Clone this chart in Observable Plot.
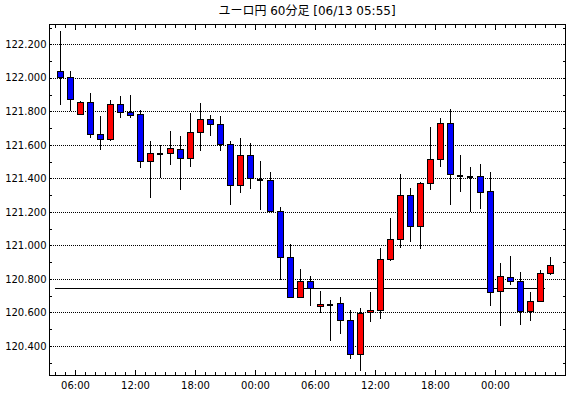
<!DOCTYPE html>
<html>
<head>
<meta charset="utf-8">
<script src="https://cdn.jsdelivr.net/npm/d3@7"></script>
<script src="https://cdn.jsdelivr.net/npm/@observablehq/plot@0.6"></script>
<style>
  html, body { margin: 0; padding: 0; background: #ffffff; }
  #title { width: 570px; height: 20px; box-sizing: border-box; padding-left: 44px; text-align: center;
           font-family: "DejaVu Sans", "Noto Sans CJK JP", sans-serif; font-size: 12px; line-height: 22px; color: #000; white-space: nowrap; }
</style>
</head>
<body>
<div id="title">ユーロ円 60分足 [06/13 05:55]</div>
<div id="chart"></div>
<script>
// Candle start hours (hours since 06/11 00:00)
const hours = [4,5,6,7,8,9,10,11,12,13,14,15,16,17,18,19,20,21,22,23,24,25,26,27,28,29,30,31,32,33,34,35,36,37,38,39,40,41,42,43,44,45,46,47,48,49,50,51,52,53];
const opens = [122.04,122.00,121.78,121.85,121.66,121.63,121.84,121.79,121.78,121.50,
               121.55,121.55,121.57,121.52,121.675,121.75,121.72,121.60,121.36,121.535,
               121.39,121.385,121.20,120.93,120.69,120.785,120.632,120.648,120.65,120.553,
               120.348,120.60,120.608,120.914,121.036,121.30,121.11,121.367,121.511,121.728,
               121.417,121.411,121.41,121.32,120.722,120.808,120.784,120.604,120.664,120.832];
const highs = [122.28,122.04,121.86,121.91,121.77,121.87,121.89,121.90,121.81,121.62,
               121.60,121.68,121.65,121.79,121.85,121.78,121.77,121.62,121.64,121.61,
               121.505,121.435,121.23,121.005,120.86,120.815,120.73,120.675,120.69,120.615,
               120.625,120.72,120.985,121.165,121.423,121.345,121.38,121.706,121.758,121.814,
               121.537,121.47,121.483,121.435,120.892,120.936,120.838,120.72,120.85,120.932];
const lows  = [121.84,121.80,121.775,121.64,121.57,121.62,121.76,121.76,121.46,121.28,
               121.40,121.48,121.33,121.47,121.56,121.655,121.56,121.24,121.31,121.335,
               121.21,121.20,120.795,120.685,120.69,120.64,120.595,120.43,120.47,120.32,
               120.247,120.54,120.558,120.908,120.986,121.022,120.98,121.33,121.467,121.24,
               121.317,121.20,121.215,120.64,120.52,120.764,120.524,120.548,120.664,120.82];
const closes = [122.00,121.87,121.85,121.66,121.63,121.84,121.79,121.775,121.50,121.55,
               121.55,121.575,121.52,121.675,121.75,121.72,121.60,121.36,121.535,121.40,
               121.39,121.20,120.925,120.69,120.785,120.745,120.645,120.648,120.55,120.348,
               120.595,120.612,120.916,121.036,121.30,121.11,121.367,121.51,121.728,121.42,
               121.417,121.411,121.317,120.72,120.812,120.785,120.604,120.664,120.832,120.882];

// Axis ticks and labels
const yLabelValues = [120.4,120.6,120.8,121.0,121.2,121.4,121.6,121.8,122.0,122.2];
const yMinorTicks = [120.3,120.4,120.5,120.6,120.7,120.8,120.9,121.0,121.1,121.2,121.3,121.4,121.5,121.6,121.7,121.8,121.9,122.0,122.1,122.2,122.3];
const xLabelHours = [6,12,18,24,30,36,42,48];
const xLabels = ["06:00","12:00","18:00","00:00","06:00","12:00","18:00","00:00"];
const xMinorHours = [4,5,6,7,8,9,10,11,12,13,14,15,16,17,18,19,20,21,22,23,24,25,26,27,28,29,30,31,32,33,34,35,36,37,38,39,40,41,42,43,44,45,46,47,48,49,50,51,52,53,54];

// Reference line
const refLevel = 120.748;
const refStart = 4;
const refEnd = 53;

const halfBody = 0.3;
const candles = hours.map((h, i) => ({
  mid: h + 0.5, open: opens[i], high: highs[i], low: lows[i], close: closes[i]
}));
const bodies = candles.filter(d => d.open !== d.close);
const dojis = candles.filter(d => d.open === d.close);

const crisp = "crispEdges";
const tickOpts = {fill: "none", label: null, stroke: "black", shapeRendering: crisp};

const chart = Plot.plot({
  width: 570,
  height: 378,
  marginTop: 4,
  marginBottom: 23,
  marginLeft: 49,
  marginRight: 5,
  style: {fontFamily: "DejaVu Sans", fontSize: "10px", color: "black", background: "white", overflow: "visible"},
  x: {domain: [3.4, 55.0]},
  y: {domain: [120.226, 122.321]},
  color: {type: "identity"},
  marks: [
    Plot.gridY(yLabelValues, {stroke: "black", strokeOpacity: 1, strokeDasharray: "1,1", shapeRendering: crisp}),
    Plot.axisY(yLabelValues, {anchor: "left", tickSize: 0, tickPadding: 3, tickFormat: d => d.toFixed(3), label: null, fill: "black"}),
    Plot.axisY(yMinorTicks, {anchor: "left", tickSize: -3, ...tickOpts}),
    Plot.axisY(yMinorTicks, {anchor: "right", tickSize: -3, ...tickOpts}),
    Plot.axisX(xLabelHours, {anchor: "bottom", tickSize: 0, tickPadding: 6, tickFormat: d => xLabels[xLabelHours.indexOf(d)], label: null, fill: "black"}),
    Plot.axisX(xMinorHours, {anchor: "bottom", tickSize: -3, ...tickOpts}),
    Plot.axisX(xLabelHours, {anchor: "bottom", tickSize: -5, ...tickOpts}),
    Plot.axisX(xMinorHours, {anchor: "top", tickSize: -3, ...tickOpts}),
    Plot.axisX(xLabelHours, {anchor: "top", tickSize: -5, ...tickOpts}),
    Plot.ruleY([refLevel], {x1: refStart, x2: refEnd, stroke: "black", strokeWidth: 1, shapeRendering: crisp}),
    Plot.ruleX(candles, {x: "mid", y1: "low", y2: "high", stroke: "black", strokeWidth: 1, shapeRendering: crisp}),
    Plot.rect(bodies, {
      x1: d => d.mid - halfBody, x2: d => d.mid + halfBody,
      y1: "open", y2: "close",
      fill: d => d.close > d.open ? "#ff0000" : "#0000ff",
      stroke: "black", strokeWidth: 1, shapeRendering: crisp
    }),
    Plot.ruleY(dojis, {y: "open", x1: d => d.mid - halfBody, x2: d => d.mid + halfBody, stroke: "black", strokeWidth: 2, shapeRendering: crisp}),
    Plot.frame({stroke: "black", shapeRendering: crisp})
  ]
});
document.getElementById("chart").appendChild(chart);
</script>
</body>
</html>
